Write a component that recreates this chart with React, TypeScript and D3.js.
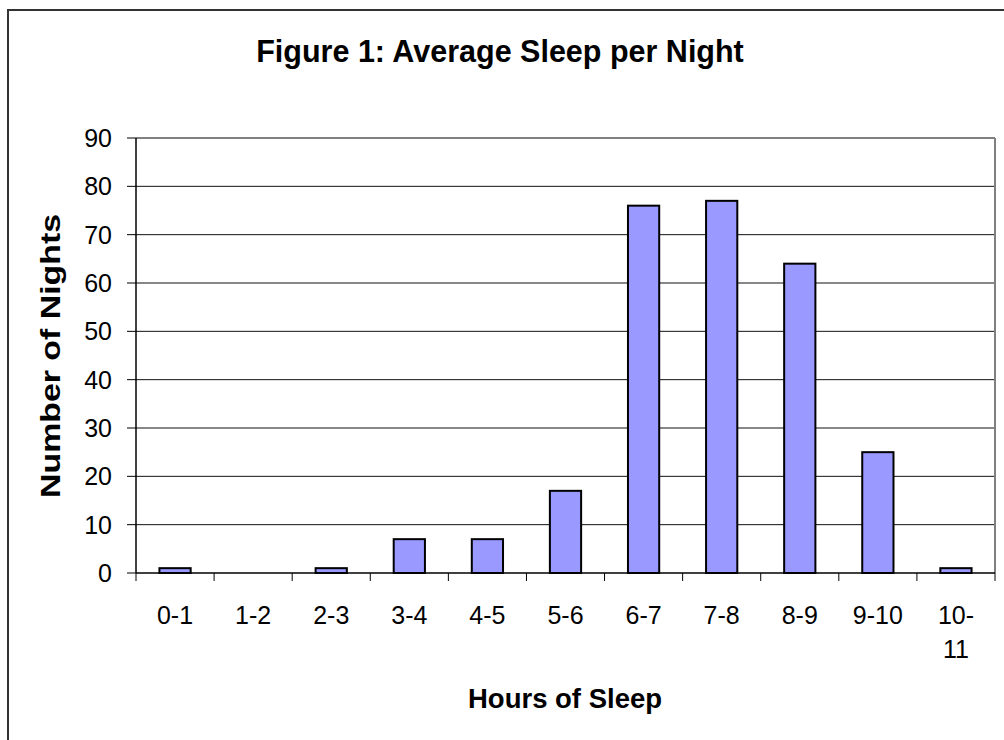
import * as d3 from 'd3'

const categories = ['0-1', '1-2', '2-3', '3-4', '4-5', '5-6', '6-7', '7-8', '8-9', '9-10', '10-11']
const nights = [1, 0, 1, 7, 7, 17, 76, 77, 64, 25, 1]
const yTicks = [0, 10, 20, 30, 40, 50, 60, 70, 80, 90]

const W = 1004
const H = 740
const plot = { left: 136, right: 995, top: 138, bottom: 573 }
const font = '"Liberation Sans", Arial, sans-serif'

const App = () => {
  const x = d3.scaleBand().domain(categories).range([plot.left, plot.right])
  const y = d3.scaleLinear().domain([0, 90]).range([plot.bottom, plot.top])
  const bw = x.bandwidth() * 0.4

  // wrap long labels after the hyphen, like the spreadsheet does
  const lines = (c) => (c.length > 4 ? [c.slice(0, c.indexOf('-') + 1), c.slice(c.indexOf('-') + 1)] : [c])

  return (
    <svg width={W} height={H} style={{ position: 'absolute', left: 0, top: 0, background: '#fff' }}>
      <path d={`M8,${H} V10 H${W}`} fill="none" stroke="#333" strokeWidth={2} />

      <text x={500} y={62} textAnchor="middle" fontFamily={font} fontWeight="bold" fontSize={30.5}>
        Figure 1: Average Sleep per Night
      </text>

      {yTicks.filter(t => t > 0 && t < 90).map(t => (
        <line key={t} x1={plot.left} x2={plot.right} y1={y(t)} y2={y(t)} stroke="#111" strokeWidth={1} />
      ))}
      <line x1={plot.left} x2={plot.right} y1={y(90)} y2={y(90)} stroke="#808080" strokeWidth={2} />
      <line x1={plot.right} x2={plot.right} y1={y(90)} y2={plot.bottom} stroke="#808080" strokeWidth={2} />

      {categories.map((c, i) => (
        <rect
          key={c}
          x={x(c) + (x.bandwidth() - bw) / 2}
          y={y(nights[i])}
          width={bw}
          height={y(0) - y(nights[i])}
          fill="#9999FF"
          stroke="#000"
          strokeWidth={2}
        />
      ))}

      <line x1={plot.left} x2={plot.left} y1={y(90)} y2={plot.bottom} stroke="#000" strokeWidth={1.5} />
      <line x1={plot.left} x2={plot.right} y1={plot.bottom} y2={plot.bottom} stroke="#000" strokeWidth={1.5} />

      {yTicks.map(t => (
        <g key={t}>
          <line x1={plot.left - 9} x2={plot.left} y1={y(t)} y2={y(t)} stroke="#000" />
          <text x={112} y={y(t)} dy="0.36em" textAnchor="end" fontFamily={font} fontSize={25}>{t}</text>
        </g>
      ))}

      {categories.map(c => (
        <line key={c} x1={x(c)} x2={x(c)} y1={plot.bottom} y2={plot.bottom + 8} stroke="#000" />
      ))}
      <line x1={plot.right} x2={plot.right} y1={plot.bottom} y2={plot.bottom + 8} stroke="#000" />

      {categories.map(c => (
        <text key={c} x={x(c) + x.bandwidth() / 2} y={624} textAnchor="middle" fontFamily={font} fontSize={25}>
          {lines(c).map((l, k) => (
            <tspan key={k} x={x(c) + x.bandwidth() / 2} dy={k === 0 ? 0 : 34}>{l}</tspan>
          ))}
        </text>
      ))}

      <text x={565} y={708} textAnchor="middle" fontFamily={font} fontWeight="bold" fontSize={27.5}>
        Hours of Sleep
      </text>
      <text
        transform={`translate(60, 356) rotate(-90)`}
        textAnchor="middle"
        fontFamily={font}
        fontWeight="bold"
        fontSize={27}
        textLength={284}
        lengthAdjust="spacingAndGlyphs"
      >
        Number of Nights
      </text>
    </svg>
  )
}

export default App
